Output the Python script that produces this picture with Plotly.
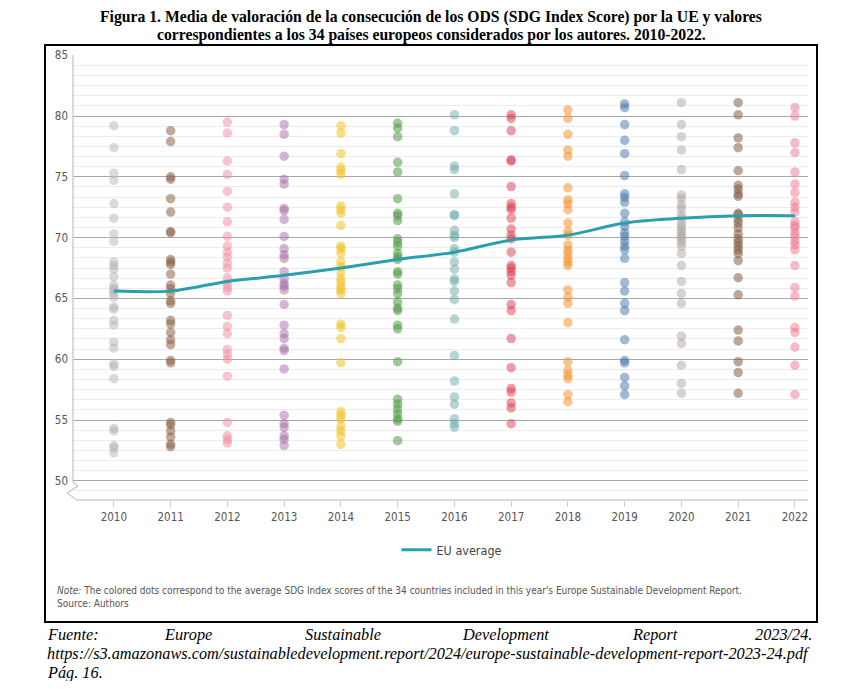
import plotly.graph_objects as go

# chart title and texts
title_line1 = "<b>Figura 1. Media de valoración de la consecución de los ODS (SDG Index Score) por la UE y valores</b>"
title_line2 = "<b>correspondientes a los 34 países europeos considerados por los autores. 2010-2022.</b>"
note_text = ("<i>Note:</i> The colored dots correspond to the average SDG Index scores of the 34 countries "
             "included in this year's Europe Sustainable Development Report.<br>Source: Authors")

years = [2010, 2011, 2012, 2013, 2014, 2015, 2016, 2017, 2018, 2019, 2020, 2021, 2022]
eu_average = [65.6, 65.6, 66.4, 66.9, 67.5, 68.2, 68.8, 69.8, 70.2, 71.2, 71.6, 71.8, 71.8]

# country scores per year
y2010 = [79.2, 77.4, 75.3, 74.7, 72.8, 71.6, 70.3, 69.7, 68.0, 67.7, 67.4, 66.8, 66.1, 65.8, 65.7,
         65.4, 65.1, 64.3, 64.1, 63.2, 62.8, 61.4, 60.9, 59.6, 59.4, 58.4, 54.3, 54.1, 52.9, 52.7, 52.3]
y2011 = [78.8, 77.9, 75.0, 74.8, 73.2, 72.1, 70.5, 70.4, 68.2, 68.0, 67.8, 67.0, 66.1, 65.8, 65.4,
         64.8, 64.6, 63.2, 62.9, 62.2, 61.6, 61.2, 59.9, 59.7, 54.8, 54.6, 54.1, 53.6, 53.0, 52.8]
y2012 = [79.5, 78.6, 76.3, 75.2, 73.8, 72.5, 71.3, 70.1, 69.3, 68.8, 68.4, 67.9, 67.5, 66.7, 66.2,
         65.9, 65.6, 63.6, 62.7, 62.1, 60.8, 60.4, 60.0, 58.6, 54.8, 53.7, 53.4, 53.1]
y2013 = [79.3, 78.5, 76.7, 74.8, 74.4, 72.4, 72.2, 71.5, 70.1, 69.1, 68.6, 68.3, 67.2, 66.6, 66.2,
         66.0, 65.7, 64.5, 62.8, 62.1, 61.7, 60.9, 60.7, 59.2, 55.4, 54.7, 54.4, 53.7, 53.4, 52.9]
y2014 = [79.2, 78.6, 76.9, 75.8, 75.5, 75.2, 72.6, 72.3, 72.0, 71.0, 69.3, 69.1, 68.7, 68.0, 67.6,
         67.1, 66.6, 66.3, 65.9, 65.7, 65.4, 62.9, 62.6, 61.7, 59.7, 55.7, 55.4, 55.1, 54.5, 54.1,
         53.7, 53.0]
y2015 = [79.4, 79.0, 78.3, 76.2, 75.4, 73.2, 72.0, 71.8, 71.4, 69.9, 69.6, 69.3, 68.7, 68.4, 68.2,
         67.2, 67.0, 66.1, 65.8, 65.4, 64.7, 64.2, 64.0, 62.8, 62.5, 59.8, 56.7, 56.3, 55.9, 55.5,
         55.1, 54.9, 53.3]
y2016 = [80.1, 78.8, 75.9, 75.6, 73.6, 71.9, 71.8, 70.6, 70.2, 70.0, 69.1, 68.8, 68.0, 67.4, 66.6,
         66.4, 65.6, 64.9, 63.3, 60.3, 58.2, 56.9, 56.3, 55.1, 54.7, 54.4]
y2017 = [80.1, 79.8, 78.8, 76.4, 76.3, 74.2, 72.8, 72.5, 72.3, 71.6, 70.7, 70.2, 69.9, 68.8, 67.7,
         67.5, 67.2, 66.9, 66.3, 64.5, 64.0, 61.7, 59.3, 57.6, 57.3, 56.4, 56.0, 54.7]
y2018 = [80.5, 79.8, 78.5, 77.2, 76.7, 74.1, 73.1, 72.8, 72.3, 71.2, 70.5, 70.2, 69.4, 69.0, 68.7,
         68.3, 68.0, 67.7, 65.7, 65.1, 64.6, 63.0, 59.8, 59.1, 58.7, 58.4, 57.1, 56.5]
y2019 = [81.0, 80.7, 79.3, 78.0, 76.9, 75.1, 73.6, 73.3, 72.9, 72.0, 71.3, 70.9, 70.4, 70.1, 69.7,
         69.3, 69.0, 68.3, 66.3, 65.6, 64.6, 64.0, 61.6, 59.9, 59.7, 58.5, 57.8, 57.1]
y2020 = [81.1, 79.3, 78.3, 77.2, 75.6, 73.5, 73.2, 72.7, 72.4, 71.9, 71.6, 71.2, 70.9, 70.6, 70.4,
         70.1, 69.9, 69.6, 69.3, 68.7, 67.7, 66.4, 65.4, 64.6, 61.9, 61.3, 59.5, 58.0, 57.2]
y2021 = [81.1, 80.1, 78.2, 77.4, 75.5, 74.3, 74.0, 73.6, 73.4, 72.0, 71.9, 71.5, 71.2, 70.8, 70.3,
         69.9, 69.6, 69.3, 69.0, 68.7, 68.1, 66.7, 65.3, 62.4, 61.5, 59.8, 58.9, 57.2]
y2022 = [80.7, 80.0, 77.8, 77.0, 75.4, 74.4, 73.7, 72.9, 72.5, 72.1, 71.3, 71.0, 70.8, 70.4, 70.1,
         69.7, 69.4, 69.0, 67.7, 65.9, 65.2, 62.6, 62.2, 61.0, 59.5, 57.1]

scores = [y2010, y2011, y2012, y2013, y2014, y2015, y2016, y2017, y2018, y2019, y2020, y2021, y2022]
dot_colors = ["rgba(185,180,180,0.5)", "rgba(140,100,75,0.55)", "rgba(242,140,160,0.5)",
              "rgba(165,110,165,0.5)", "rgba(240,195,40,0.55)", "rgba(80,155,70,0.55)",
              "rgba(110,170,170,0.5)", "rgba(220,60,80,0.5)", "rgba(242,150,50,0.55)",
              "rgba(70,115,170,0.5)", "rgba(175,165,160,0.5)", "rgba(135,95,70,0.55)",
              "rgba(240,120,145,0.5)"]

# page body has an 8px margin, so the figure is a bit smaller than the window
W, H = 826, 673
L, R, T, B = 65, 800, 47, 492


# helpers: position in window pixels -> paper coords
def px(x):
    return (x - 8 - L) / (R - L)


def py(y):
    return (B - (y - 8)) / (B - T)


narrow = "Liberation Sans Narrow, DejaVu Sans Condensed, Arial Narrow, sans-serif"
serif = "Liberation Serif, Times New Roman, serif"

fig = go.Figure()

for yr, vals, col in zip(years, scores, dot_colors):
    fig.add_trace(go.Scatter(x=[yr] * len(vals), y=vals, mode="markers",
                             marker=dict(size=9.5, color=col, line=dict(width=0)),
                             showlegend=False, hoverinfo="y"))

fig.add_trace(go.Scatter(x=years, y=eu_average, mode="lines", name="EU average",
                         line=dict(color="#2a9fb0", width=3, shape="spline", smoothing=0.8)))

fig.update_layout(
    width=W, height=H,
    margin=dict(l=L, r=W - R, t=T, b=H - B),
    paper_bgcolor="white", plot_bgcolor="white",
    showlegend=True,
    legend=dict(orientation="h", x=px(452), y=py(550), xanchor="center", yanchor="middle",
                font=dict(family=narrow, size=12.5, color="#444")),
)

fig.update_xaxes(range=[2009.28, 2022.23], tickvals=years, ticktext=[str(y) for y in years],
                 showgrid=False, zeroline=False, showline=False,
                 ticks="outside", ticklen=6, tickcolor="#cccccc",
                 tickfont=dict(family=narrow, size=11.5, color="#555"))
fig.update_yaxes(range=[48.42, 85.02], tickvals=[50, 55, 60, 65, 70, 75, 80, 85],
                 showgrid=True, gridcolor="#a9a9a9", gridwidth=1, zeroline=False, showline=False,
                 tickfont=dict(family=narrow, size=11.5, color="#555"), ticklabelstandoff=4,
                 minor=dict(tick0=50, dtick=5 / 6, showgrid=True, gridcolor="#ececec", gridwidth=1))

# axis line with the break mark
fig.add_shape(type="path", xref="paper", yref="paper",
              path=(f"M {px(73)},{py(55)} L {px(73)},{py(482)} L {px(78)},{py(486)} "
                    f"L {px(67)},{py(493)} L {px(77)},{py(500)} L {px(808)},{py(500)}"),
              line=dict(color="#b5b5b5", width=1))

# frame around the chart
fig.add_shape(type="rect", xref="paper", yref="paper",
              x0=px(45), x1=px(817), y0=py(45), y1=py(622),
              line=dict(color="black", width=2), fillcolor="rgba(0,0,0,0)")

for txt, ypos in [(title_line1, 17), (title_line2, 35)]:
    fig.add_annotation(text=txt, xref="paper", yref="paper", x=px(431), y=py(ypos),
                       xanchor="center", yanchor="middle", showarrow=False,
                       font=dict(family=serif, size=15.7, color="black"))

fig.add_annotation(text=note_text, xref="paper", yref="paper", x=px(55), y=py(597),
                   xanchor="left", yanchor="middle", align="left", showarrow=False,
                   font=dict(family=narrow, size=10, color="#555"))

# footer, spread like justified text
footer_words = [("Fuente:", 45, "left"), ("Europe", 162, "left"), ("Sustainable", 303, "left"),
                ("Development", 460, "left"), ("Report", 630, "left"), ("2023/24.", 814, "right")]
for word, xpos, anchor in footer_words:
    fig.add_annotation(text=f"<i>{word}</i>", xref="paper", yref="paper", x=px(xpos), y=py(634),
                       xanchor=anchor, yanchor="middle", showarrow=False,
                       font=dict(family=serif, size=16.3, color="black"))
fig.add_annotation(text="<i>https://s3.amazonaws.com/sustainabledevelopment.report/2024/"
                        "europe-sustainable-development-report-2023-24.pdf</i>",
                   xref="paper", yref="paper", x=px(45), y=py(653), xanchor="left", yanchor="middle",
                   showarrow=False, font=dict(family=serif, size=16.3, color="black"))
fig.add_annotation(text="<i>Pág. 16.</i>", xref="paper", yref="paper", x=px(45), y=py(672),
                   xanchor="left", yanchor="middle", showarrow=False,
                   font=dict(family=serif, size=16.3, color="black"))

fig.write_html("out.html")
